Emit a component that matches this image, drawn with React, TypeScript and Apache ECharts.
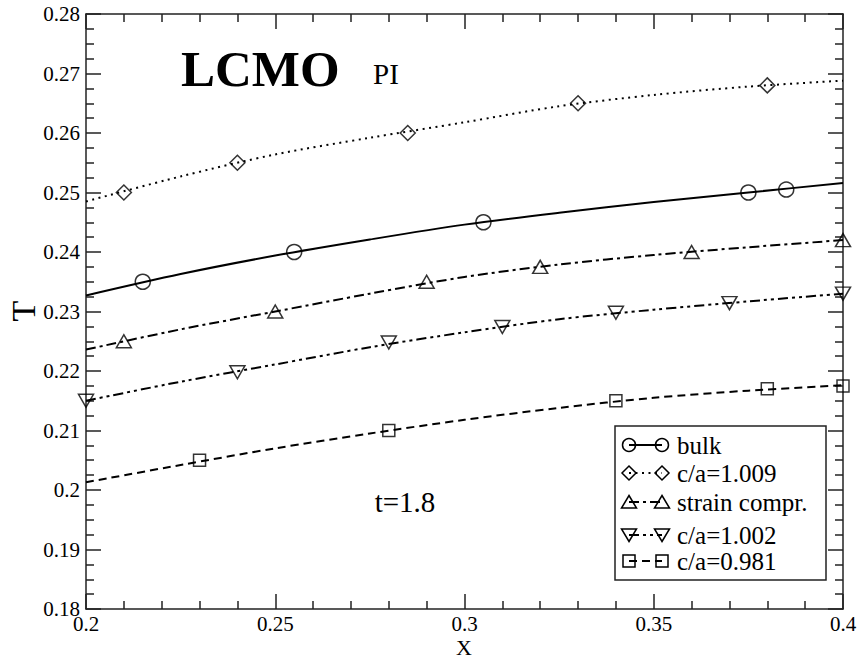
import React, { useEffect, useRef } from "react";
import * as echarts from "echarts";

const FONT = "Liberation Serif";

// Series names
const seriesNames = ["bulk", "c/a=1.009", "strain compr.", "c/a=1.002", "c/a=0.981"];

// Marker (data point) positions
const bulkX = [0.215, 0.255, 0.305, 0.375, 0.385];
const bulkY = [0.235, 0.24, 0.245, 0.25, 0.2505];
const ca1009X = [0.21, 0.24, 0.285, 0.33, 0.38];
const ca1009Y = [0.25, 0.255, 0.26, 0.265, 0.268];
const strainX = [0.21, 0.25, 0.29, 0.32, 0.36, 0.4];
const strainY = [0.225, 0.23, 0.235, 0.2375, 0.24, 0.242];
const ca1002X = [0.2, 0.24, 0.28, 0.31, 0.34, 0.37, 0.4];
const ca1002Y = [0.215, 0.2198, 0.2248, 0.2274, 0.2298, 0.2314, 0.233];
const ca0981X = [0.23, 0.28, 0.34, 0.38, 0.4];
const ca0981Y = [0.205, 0.21, 0.215, 0.217, 0.2175];

// Fitted curves
const curveX = [0.2, 0.225, 0.25, 0.275, 0.3, 0.325, 0.35, 0.375, 0.4];
const bulkCurve = [0.2327, 0.2363, 0.2394, 0.2421, 0.2446, 0.2466, 0.2484, 0.25, 0.2516];
const ca1009Curve = [0.2485, 0.2527, 0.2564, 0.2592, 0.2618, 0.2645, 0.2664, 0.2678, 0.2688];
const strainCurve = [0.2236, 0.227, 0.23, 0.233, 0.2358, 0.2379, 0.2395, 0.2408, 0.242];
const ca1002Curve = [0.215, 0.2182, 0.2211, 0.224, 0.2265, 0.2287, 0.2303, 0.2317, 0.233];
const ca0981Curve = [0.2013, 0.2042, 0.207, 0.2095, 0.2118, 0.2138, 0.2155, 0.2167, 0.2176];

// Axis ticks
const xTicks = [0.2, 0.25, 0.3, 0.35, 0.4];
const yMin = 0.18;
const yMax = 0.28;

const zip = (xs: number[], ys: number[]) => xs.map((x, i) => [x, ys[i]]);

type Kind = "circle" | "diamond" | "up" | "down" | "square";

const styles: { kind: Kind; dash: number[] | "solid"; mx: number[]; my: number[]; curve: number[] }[] = [
  { kind: "circle", dash: "solid", mx: bulkX, my: bulkY, curve: bulkCurve },
  { kind: "diamond", dash: [2, 4.5], mx: ca1009X, my: ca1009Y, curve: ca1009Curve },
  { kind: "up", dash: [10, 4, 3, 4], mx: strainX, my: strainY, curve: strainCurve },
  { kind: "down", dash: [10, 4, 3, 4, 3, 4], mx: ca1002X, my: ca1002Y, curve: ca1002Curve },
  { kind: "square", dash: [8, 5], mx: ca0981X, my: ca0981Y, curve: ca0981Curve },
];

const symbolOf = (k: Kind) =>
  k === "circle" ? "circle" : k === "diamond" ? "diamond" : k === "square" ? "rect" : "triangle";
const sizeOf = (k: Kind): any =>
  k === "circle" ? 15 : k === "diamond" ? [15, 15] : k === "square" ? 12 : [15, 13];

function legendMarker(k: Kind, cx: number, cy: number) {
  const style = { fill: "none", stroke: "#000", lineWidth: 1.5 };
  if (k === "circle") return { type: "circle", shape: { cx, cy, r: 6.5 }, style };
  if (k === "square") return { type: "rect", shape: { x: cx - 6, y: cy - 6, width: 12, height: 12 }, style };
  if (k === "diamond")
    return { type: "polygon", shape: { points: [[cx, cy - 7], [cx + 7, cy], [cx, cy + 7], [cx - 7, cy]] }, style };
  if (k === "up")
    return { type: "polygon", shape: { points: [[cx, cy - 6.5], [cx + 7.5, cy + 6], [cx - 7.5, cy + 6]] }, style };
  return { type: "polygon", shape: { points: [[cx, cy + 6.5], [cx + 7.5, cy - 6], [cx - 7.5, cy - 6]] }, style };
}

const textEl = (
  text: string,
  x: number,
  y: number,
  size: number,
  align: string,
  weight = "normal",
  rotation = 0
) => ({
  type: "text",
  x,
  y,
  rotation,
  style: {
    text,
    fontFamily: FONT,
    fontSize: size,
    fontWeight: weight,
    fill: "#000",
    align,
    textAlign: align,
    verticalAlign: "middle",
    textVerticalAlign: "middle",
  },
});

export default function App() {
  const ref = useRef<HTMLDivElement>(null);
  useEffect(() => {
    if (!ref.current) return;
    const chart = echarts.init(ref.current, null, { renderer: "svg" });

    const series: any[] = [];
    styles.forEach((s, i) => {
      series.push({
        name: seriesNames[i] + " fit",
        type: "line",
        data: zip(curveX, s.curve),
        smooth: 0.3,
        showSymbol: false,
        lineStyle: { color: "#000", width: 2, type: s.dash },
        z: 2,
      });
      series.push({
        name: seriesNames[i],
        type: "scatter",
        data: zip(s.mx, s.my),
        symbol: symbolOf(s.kind),
        symbolSize: sizeOf(s.kind),
        symbolRotate: s.kind === "down" ? 180 : 0,
        itemStyle: { color: "rgba(0,0,0,0)", borderColor: "#000", borderWidth: 1.5 },
        z: 3,
      });
    });

    const legendRows = [445, 473, 502, 535, 561];
    const legendEls: any[] = [
      {
        type: "rect",
        shape: { x: 615, y: 426, width: 211, height: 154 },
        style: { fill: "#fff", stroke: "#222", lineWidth: 1.5 },
        z: 10,
      },
    ];
    styles.forEach((s, i) => {
      const cy = legendRows[i];
      legendEls.push({
        type: "line",
        shape: { x1: 629, y1: cy, x2: 662, y2: cy },
        style: { stroke: "#000", lineWidth: 2, lineDash: s.dash === "solid" ? null : s.dash },
        z: 11,
      });
      legendEls.push({ ...legendMarker(s.kind, 629, cy), z: 12 });
      legendEls.push({ ...legendMarker(s.kind, 662, cy), z: 12 });
      legendEls.push({ ...textEl(seriesNames[i], 677, cy, 25, "left"), z: 12 });
    });

    const axisCommon = {
      type: "value",
      axisLine: { show: true, onZero: false, lineStyle: { color: "#222", width: 1.5 } },
      axisTick: { show: true, inside: true, length: 15, lineStyle: { color: "#222", width: 1.5 } },
      minorTick: { show: true, length: 8, lineStyle: { color: "#222", width: 1.5 } },
      splitLine: { show: false },
    };

    chart.setOption({
      animation: false,
      backgroundColor: "#fff",
      grid: { left: 86, right: 14, top: 14, bottom: 51, containLabel: false, outerBoundsMode: "none" },
      xAxis: [
        {
          ...axisCommon,
          position: "bottom",
          min: xTicks[0],
          max: xTicks[xTicks.length - 1],
          interval: 0.05,
          minorTick: { ...axisCommon.minorTick, splitNumber: 5 },
          axisLabel: {
            color: "#000",
            fontFamily: FONT,
            fontSize: 21,
            margin: 4,
            formatter: (v: number) => String(+v.toFixed(3)),
          },
        },
        {
          ...axisCommon,
          position: "top",
          min: xTicks[0],
          max: xTicks[xTicks.length - 1],
          interval: 0.05,
          minorTick: { ...axisCommon.minorTick, splitNumber: 5 },
          axisLabel: { show: false },
        },
      ],
      yAxis: [
        {
          ...axisCommon,
          position: "left",
          min: yMin,
          max: yMax,
          interval: 0.01,
          minorTick: { ...axisCommon.minorTick, splitNumber: 4 },
          axisLabel: {
            color: "#000",
            fontFamily: FONT,
            fontSize: 21,
            margin: 6,
            formatter: (v: number) => String(+v.toFixed(3)),
          },
        },
        {
          ...axisCommon,
          position: "right",
          min: yMin,
          max: yMax,
          interval: 0.01,
          minorTick: { ...axisCommon.minorTick, splitNumber: 4 },
          axisLabel: { show: false },
        },
      ],
      series,
      graphic: [
        textEl("T", 23, 311, 34, "center", "normal", Math.PI / 2),
        textEl("X", 464, 647, 22, "center"),
        textEl("LCMO", 181, 69, 51, "left", "bold"),
        textEl("PI", 373, 74, 29, "left"),
        textEl("t=1.8", 405, 502, 29, "center"),
        ...legendEls,
      ],
    });
    return () => chart.dispose();
  }, []);
  return (
    <div
      ref={ref}
      style={{ position: "fixed", left: 0, top: 0, width: 857, height: 660, background: "#fff" }}
    />
  );
}
